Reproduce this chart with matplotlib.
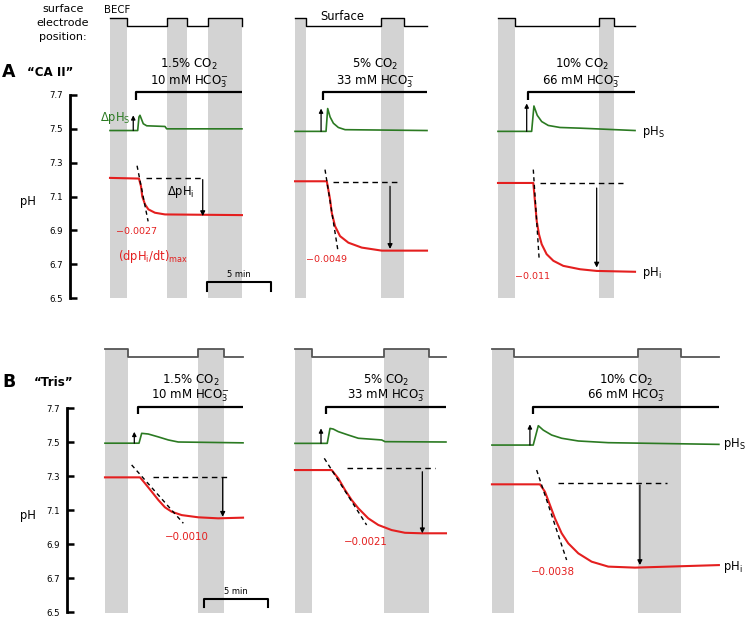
import numpy as np
import matplotlib
matplotlib.use('Agg')
import matplotlib.pyplot as plt

plt.rcParams['font.family'] = ['DejaVu Sans']
plt.rcParams['mathtext.default'] = 'regular'

green = '#2b7a22'
red = '#e41f1f'
gray = '#d3d3d3'

# ---- data (time in min from start of each panel, pH) ----
# row A: "CA II"
a_hs_t = [[0, 2.18, 2.28, 2.36, 2.62, 2.89, 4.33, 4.46, 10.39],
          [0, 2.44, 2.57, 2.76, 3.02, 3.41, 3.94, 10.39],
          [0, 2.65, 2.83, 3.09, 3.44, 3.96, 4.88, 6.46, 10.79]]
a_hs = [[7.49, 7.49, 7.57, 7.58, 7.53, 7.518, 7.514, 7.50, 7.50],
        [7.485, 7.485, 7.62, 7.57, 7.533, 7.508, 7.495, 7.49],
        [7.485, 7.485, 7.635, 7.58, 7.543, 7.52, 7.508, 7.504, 7.49]]
a_hi_t = [[0, 2.28, 2.44, 2.54, 2.76, 3.02, 3.54, 4.33, 10.39],
          [0, 2.5, 2.76, 2.89, 3.15, 3.54, 4.2, 5.25, 6.83, 10.39],
          [0, 2.78, 2.91, 3.05, 3.23, 3.44, 3.83, 4.36, 5.14, 6.46, 7.77, 10.79]]
a_hi = [[7.21, 7.206, 7.16, 7.10, 7.053, 7.024, 7.004, 6.994, 6.99],
        [7.19, 7.19, 7.082, 7.004, 6.925, 6.866, 6.827, 6.798, 6.78, 6.78],
        [7.18, 7.18, 7.072, 6.955, 6.876, 6.818, 6.759, 6.72, 6.69, 6.67, 6.66, 6.655]]

# row B: "Tris"
b_hs_t = [[0, 2.68, 2.89, 3.41, 4.2, 4.99, 5.77, 10.87],
          [0, 2.54, 2.76, 3.02, 3.41, 4.2, 4.99, 6.83, 7.09, 11.89],
          [0, 3.25, 3.65, 4.04, 4.7, 5.49, 6.8, 9.16, 17.87]]
b_hs = [[7.493, 7.493, 7.551, 7.547, 7.53, 7.512, 7.5, 7.495],
        [7.492, 7.492, 7.58, 7.576, 7.561, 7.541, 7.522, 7.512, 7.502, 7.50],
        [7.482, 7.482, 7.596, 7.57, 7.541, 7.522, 7.506, 7.496, 7.486]]
b_hi_t = [[0, 2.76, 3.15, 3.68, 4.2, 4.72, 5.25, 6.04, 7.35, 8.92, 10.87],
          [0, 2.89, 3.41, 3.94, 4.46, 4.99, 5.77, 6.56, 7.61, 8.66, 9.97, 11.89],
          [0, 3.78, 4.17, 4.57, 4.96, 5.49, 6.01, 6.8, 7.85, 9.16, 11.26, 17.87]]
b_hi = [[7.292, 7.292, 7.257, 7.208, 7.159, 7.116, 7.09, 7.07, 7.057, 7.051, 7.055],
        [7.335, 7.335, 7.286, 7.218, 7.159, 7.11, 7.051, 7.012, 6.982, 6.966, 6.963, 6.963],
        [7.251, 7.251, 7.208, 7.129, 7.051, 6.963, 6.904, 6.845, 6.796, 6.767, 6.761, 6.776]]

# electrode in bulk (BECF) intervals and end of record
a_bulk = [[(0, 1.34), (4.49, 6.06), (7.72, 10.39)], [(0, 0.87), (6.77, 8.58)], [(0, 1.34), (7.95, 9.13)]]
a_end = [10.39, 10.39, 10.79]
b_bulk = [[(0, 1.81), (7.32, 9.37)], [(0, 1.34), (7.01, 10.55)], [(0, 1.73), (11.5, 14.88)]]
b_end = [10.87, 11.89, 17.87]

# CO2 solutions
co2_line1 = ['1.5% CO$_2$', '5% CO$_2$', '10% CO$_2$']
co2_line2 = ['10 mM HCO$_3^{-}$', '33 mM HCO$_3^{-}$', '66 mM HCO$_3^{-}$']
a_co2_start = [2.05, 2.2, 2.36]
b_co2_start = [2.6, 2.44, 3.23]

# (dpHi/dt)max tangent lines
a_tan = [(2.13, 7.282, 3.0, 6.953), (2.36, 7.259, 3.36, 6.788), (2.78, 7.259, 3.25, 6.72)]
b_tan = [(2.1, 7.365, 6.17, 7.022), (2.31, 7.404, 5.64, 7.012), (3.52, 7.335, 5.88, 6.806)]
a_rate = ['\u22120.0027', '\u22120.0049', '\u22120.011']
b_rate = ['\u22120.0010', '\u22120.0021', '\u22120.0038']

# delta pHi reference (dashed) and arrows
a_ref = [(2.81, 7.35, 7.21), (3.02, 8.27, 7.184), (3.31, 9.84, 7.18)]
b_ref = [(3.8, 9.69, 7.296), (4.07, 11.02, 7.345), (5.22, 13.78, 7.257)]
a_dhi = [(7.3, 7.2, 6.984), (7.48, 7.16, 6.79), (7.77, 7.15, 6.68)]
b_dhi = [(9.27, 7.29, 7.06), (10.03, 7.325, 6.963), (11.65, 7.247, 6.776)]
# delta pHs arrows
a_dhs = [(1.83, 7.49, 7.58), (2.05, 7.485, 7.62), (2.26, 7.485, 7.65)]
b_dhs = [(2.31, 7.493, 7.56), (2.05, 7.492, 7.58), (2.99, 7.482, 7.604)]

yticks = [6.5, 6.7, 6.9, 7.1, 7.3, 7.5, 7.7]


def electrode_path(bulk, end, hi, lo):
    xs, ys = [], []
    for s, e in bulk:
        if s > 0:
            xs.append(s)
            ys.append(lo)
        xs += [s, e, e]
        ys += [hi, hi, lo]
    if xs[-1] < end:
        xs.append(end)
        ys.append(lo)
    return xs, ys


def draw_row(ax, offs, hs_t, hs, hi_t, hi, bulk, end, co2_start, tan, rate,
             ref, dhi, dhs, lay):
    fs_rate = lay['fs_rate']
    for k in range(3):
        x0 = offs[k]
        # gray bars and electrode trace
        for s, e in bulk[k]:
            ax.fill_between([x0 + s, x0 + e], lay['bar_bot'], lay['e_hi'],
                            color=gray, lw=0, zorder=0, clip_on=False)
        ex, ey = electrode_path(bulk[k], end[k], lay['e_hi'], lay['e_lo'])
        ax.plot([x0 + v for v in ex], ey, color=lay['e_col'], lw=lay['e_lw'],
                clip_on=False, zorder=2)
        # CO2 bar
        cs = x0 + co2_start[k]
        ce = x0 + end[k]
        ax.plot([cs, cs, ce], [lay['co2_tick'], lay['co2_y'], lay['co2_y']],
                color='k', lw=1.6, clip_on=False, solid_capstyle='butt')
        xc = (cs + ce) / 2
        ax.text(xc, lay['l1_y'], co2_line1[k], ha='center', va='baseline',
                fontsize=8.5, clip_on=False)
        ax.text(xc, lay['l2_y'], co2_line2[k], ha='center', va='baseline',
                fontsize=8.5, clip_on=False)
        # traces
        ax.plot([x0 + v for v in hs_t[k]], hs[k], color=green, lw=1.2, zorder=3)
        ax.plot([x0 + v for v in hi_t[k]], hi[k], color=red, lw=1.5, zorder=3)
        # tangent
        t0, p0, t1, p1 = tan[k]
        ax.plot([x0 + t0, x0 + t1], [p0, p1], color='k', lw=1.0,
                dashes=(3, 2.5), zorder=4)
        ax.text(x0 + lay['rate_t'][k], lay['rate_y'][k], rate[k], color=red,
                ha='center', va='center', fontsize=fs_rate)
        # reference line and delta pHi arrow
        r0, r1, rp = ref[k]
        ax.plot([x0 + r0, x0 + r1], [rp, rp], color='k', lw=1.0,
                dashes=(4, 3), zorder=4)
        t, a, b = dhi[k]
        ax.annotate('', xy=(x0 + t, b), xytext=(x0 + t, a),
                    arrowprops=dict(arrowstyle='-|>', lw=0.9, color='k',
                                    mutation_scale=7, shrinkA=0, shrinkB=0))
        t, a, b = dhs[k]
        ax.annotate('', xy=(x0 + t, b), xytext=(x0 + t, a),
                    arrowprops=dict(arrowstyle='-|>', lw=0.9, color='k',
                                    mutation_scale=6, shrinkA=0, shrinkB=0))
    # scale bar
    s0 = offs[0] + lay['sb_t']
    ax.plot([s0, s0, s0 + 5, s0 + 5],
            [lay['sb_tick'], lay['sb_y'], lay['sb_y'], lay['sb_tick']],
            color='k', lw=1.5, clip_on=False)
    ax.text(s0 + 2.5, lay['sb_lab'], '5 min', ha='center', va='center',
            fontsize=6)
    # right labels
    x3 = offs[2] + lay['lab_t']
    ax.text(x3, lay['pHs_y'], 'pH$_S$', fontsize=8.3,
            va='center', ha='left', clip_on=False)
    ax.text(x3, lay['pHi_y'], 'pH$_i$', fontsize=8.3,
            va='center', ha='left', clip_on=False)
    # axis
    ax.set_ylim(6.5, 7.7)
    ax.set_yticks(yticks)
    ax.set_yticklabels(['%.1f' % v for v in yticks], fontsize=6.2)
    for side in ['top', 'right', 'bottom']:
        ax.spines[side].set_visible(False)
    ax.spines['left'].set_linewidth(2)
    ax.tick_params(axis='y', direction='in', length=5, width=1.8, pad=5)
    ax.set_xticks([])
    ax.patch.set_alpha(0)


fig = plt.figure(figsize=(7.46, 6.18), dpi=100)
W, H = 746.0, 618.0
px = 12.7  # pixels per minute

ax_a = fig.add_axes([70 / W, (H - 298) / H, (W - 70) / W, 203 / H])
ax_a.set_xlim(0, (W - 70) / px)
ax_b = fig.add_axes([67 / W, (H - 612) / H, (W - 67) / W, 204 / H])
ax_b.set_xlim(0, (W - 67) / px)

lay_a = dict(bar_bot=6.5, e_hi=8.153, e_lo=8.11, e_col='k', e_lw=1.0,
             co2_y=7.718, co2_tick=7.67, l1_y=7.859, l2_y=7.763,
             rate_t=[2.05, 2.45, 2.72], rate_y=[6.894, 6.73, 6.63], fs_rate=6.8,
             sb_t=7.64, sb_y=6.594, sb_tick=6.541, sb_lab=6.64,
             lab_t=11.34, pHs_y=7.48, pHi_y=6.647)
lay_b = dict(bar_bot=6.495, e_hi=8.047, e_lo=8.0, e_col='#555555', e_lw=1.3,
             co2_y=7.706, co2_tick=7.665, l1_y=7.841, l2_y=7.753,
             rate_t=[6.46, 5.57, 4.8], rate_y=[6.94, 6.914, 6.735], fs_rate=7.4,
             sb_t=7.8, sb_y=6.576, sb_tick=6.53, sb_lab=6.62,
             lab_t=18.19, pHs_y=7.49, pHi_y=6.765)

draw_row(ax_a, [3.15, 17.72, 33.70], a_hs_t, a_hs, a_hi_t, a_hi, a_bulk, a_end,
         a_co2_start, a_tan, a_rate, a_ref, a_dhi, a_dhs, lay_a)
draw_row(ax_b, [2.99, 17.95, 33.46], b_hs_t, b_hs, b_hi_t, b_hi, b_bulk, b_end,
         b_co2_start, b_tan, b_rate, b_ref, b_dhi, b_dhs, lay_b)

# extra annotations in first panel of row A
x0 = 3.15
ax_a.text(x0 + 1.65, 7.565, '\u0394pH$_S$', color=green,
          ha='right', va='center', fontsize=8.3)
ax_a.text(x0 + 5.57, 7.124, '\u0394pH$_i$', color='k',
          ha='center', va='center', fontsize=8.3)
ax_a.text(x0 + 3.39, 6.747, '(dpH$_i$/dt)$_{max}$',
          color=red, ha='center', va='center', fontsize=8.3)

# figure labels
fig.text(63 / W, 1 - 23 / H, 'surface\nelectrode\nposition:', ha='center',
         va='center', fontsize=8, linespacing=1.45)
fig.text(117.5 / W, 1 - 10 / H, 'BECF', ha='center', va='center', fontsize=7.3)
fig.text(342 / W, 1 - 16 / H, 'Surface', ha='center', va='center', fontsize=8.3)
fig.text(2 / W, 1 - 72 / H, 'A', ha='left', va='center', fontsize=12.5,
         fontweight='bold')
fig.text(73 / W, 1 - 72 / H, '\u201cCA II\u201d', ha='right', va='center',
         fontsize=8.6, fontweight='bold')
fig.text(2 / W, 1 - 382 / H, 'B', ha='left', va='center', fontsize=12.5,
         fontweight='bold')
fig.text(73 / W, 1 - 382 / H, '\u201cTris\u201d', ha='right', va='center',
         fontsize=8.6, fontweight='bold')
fig.text(28 / W, 1 - 202 / H, 'pH', ha='center', va='center', fontsize=8.3)
fig.text(28 / W, 1 - 516 / H, 'pH', ha='center', va='center', fontsize=8.3)

fig.savefig('out.png', dpi=100)
